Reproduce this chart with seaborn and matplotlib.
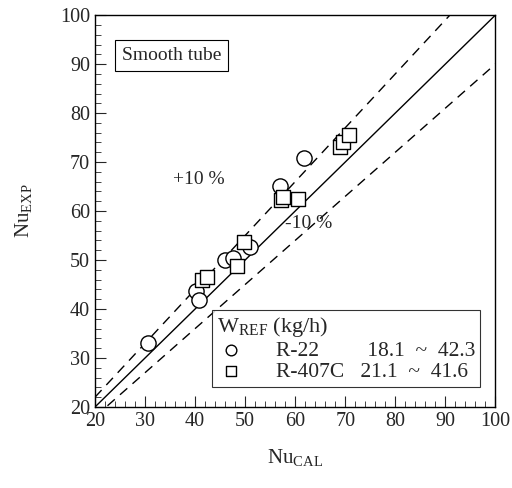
import numpy as np
import pandas as pd
import matplotlib
matplotlib.use("Agg")
import matplotlib.pyplot as plt
import seaborn as sns

# data
r22_cal = [30.5, 40.2, 40.8, 46.0, 47.5, 51.0, 57.0, 61.8]
r22_exp = [33.0, 43.6, 41.8, 50.0, 50.5, 52.6, 65.2, 70.8]
r407c_cal = [41.4, 42.3, 48.4, 49.7, 57.2, 57.6, 60.6, 69.0, 69.6, 70.8]
r407c_exp = [45.9, 46.6, 48.7, 53.6, 62.3, 62.8, 62.5, 73.0, 74.0, 75.5]
r22_label = "R-22         18.1  ~  42.3"
r407c_label = "R-407C   21.1  ~  41.6"
line_x = [20, 100]

sns.set_style("ticks")
plt.rcParams['font.family'] = ['Liberation Serif', 'DejaVu Serif']
plt.rcParams['mathtext.fontset'] = 'custom'
plt.rcParams['mathtext.rm'] = 'Liberation Serif'

fig = plt.figure(figsize=(5.12, 4.88), dpi=100)
ax = fig.add_axes([0.1855, 0.166, 0.782, 0.803])

lx = np.array(line_x, dtype=float)
ax.plot(lx, lx, color="black", lw=1.0)
ax.plot(lx, lx * 1.1, color="black", lw=1.0, dashes=(7, 5))
ax.plot(lx, lx * 0.9, color="black", lw=1.0, dashes=(7, 5))

df1 = pd.DataFrame({"cal": r22_cal, "exp": r22_exp})
df2 = pd.DataFrame({"cal": r407c_cal, "exp": r407c_exp})
sns.scatterplot(data=df1, x="cal", y="exp", marker="o", s=120, facecolor="white",
                edgecolor="black", linewidth=1.0, ax=ax, label=r22_label, zorder=3)
sns.scatterplot(data=df2, x="cal", y="exp", marker="s", s=100, facecolor="white",
                edgecolor="black", linewidth=1.0, ax=ax, label=r407c_label, zorder=3)

ax.set_xlim(20, 100)
ax.set_ylim(20, 100)
ax.set_xticks(range(20, 101, 10))
ax.set_yticks(range(20, 101, 10))
ax.set_xticks(range(20, 101, 2), minor=True)
ax.set_yticks(range(20, 101, 2), minor=True)
ax.tick_params(which="both", direction="in", top=False, right=False, labelsize=14.5)
ax.tick_params(which="major", length=8, width=0.8)
ax.tick_params(which="minor", length=4, width=0.6)
for s in ax.spines.values():
    s.set_linewidth(1.0)
    s.set_color("black")

ax.set_xlabel(r"$\mathrm{Nu}_{\mathrm{CAL}}$", fontsize=15, labelpad=12)
ax.set_ylabel(r"$\mathrm{Nu}_{\mathrm{EXP}}$", fontsize=15, labelpad=18)

ax.text(35.3, 91.7, "Smooth tube", fontsize=14, ha="center", va="center",
        bbox=dict(boxstyle="square,pad=0.35", facecolor="white", edgecolor="black", lw=0.8))
ax.text(35.5, 66.5, "+10 %", fontsize=14, ha="left", va="center")
ax.text(58.0, 57.5, "-10 %", fontsize=14, ha="left", va="center")

leg = ax.legend(loc="upper left", bbox_to_anchor=(43.4, 39.8), bbox_transform=ax.transData,
                title=r"W$_{\mathrm{REF}}$ (kg/h)", alignment="left", fontsize=15.5,
                title_fontsize=16, frameon=True, fancybox=False, borderpad=0.25,
                markerscale=0.7, handlelength=1.3, handletextpad=1.4,
                labelspacing=0.05, borderaxespad=0)
leg.get_frame().set_edgecolor("black")
leg.get_frame().set_linewidth(0.8)

fig.savefig("out.png", dpi=100)
